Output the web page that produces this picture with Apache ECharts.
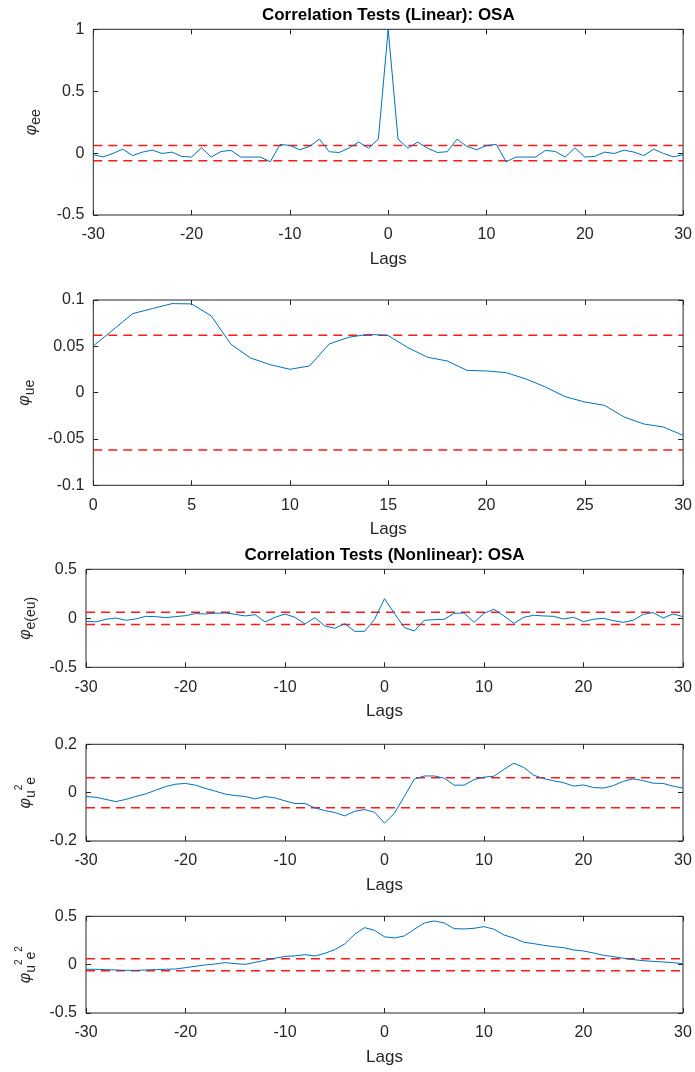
<!DOCTYPE html>
<html><head><meta charset="utf-8">
<script src="https://cdn.jsdelivr.net/npm/echarts@6/dist/echarts.min.js"></script>
<style>html,body{margin:0;padding:0;background:#fff}#c{width:695px;height:1072px}</style>
</head><body><div id="c"></div>
<script>
// ---------- data ----------
const lagsFull = [-30,-29,-28,-27,-26,-25,-24,-23,-22,-21,-20,-19,-18,-17,-16,-15,-14,-13,-12,-11,-10,-9,-8,-7,-6,-5,-4,-3,-2,-1,0,1,2,3,4,5,6,7,8,9,10,11,12,13,14,15,16,17,18,19,20,21,22,23,24,25,26,27,28,29,30];
const lagsPos = [0,1,2,3,4,5,6,7,8,9,10,11,12,13,14,15,16,17,18,19,20,21,22,23,24,25,26,27,28,29,30];

const phiEE = [-0.013,-0.03,-0.003,0.032,-0.02,0.008,0.024,-0.003,0.008,-0.027,-0.032,0.043,-0.032,0.013,0.022,-0.032,-0.032,-0.032,-0.07,0.07,0.062,0.027,0.054,0.113,0.011,0.005,0.04,0.089,0.04,0.113,
  1.0,
  0.113,0.04,0.089,0.04,0.005,0.011,0.113,0.054,0.027,0.062,0.07,-0.07,-0.032,-0.032,-0.032,0.022,0.013,-0.032,0.043,-0.032,-0.027,0.008,-0.003,0.024,0.008,-0.02,0.032,-0.003,-0.03,-0.013];

const phiUE = [0.0504,0.0677,0.0853,0.0907,0.0961,0.0958,0.0828,0.0522,0.0374,0.0302,0.0252,0.0288,0.0526,0.0598,0.063,0.0616,0.0486,0.0382,0.0342,0.0241,0.0234,0.0216,0.0148,0.0061,-0.0043,-0.0101,-0.0137,-0.0263,-0.0338,-0.0371,-0.0461];

const phiEEU = [-0.03,-0.037,-0.01,0.003,-0.02,-0.007,0.02,0.017,0.007,0.017,0.027,0.048,0.044,0.051,0.054,0.041,0.024,0.037,-0.037,0.01,0.044,0.01,-0.058,0.007,-0.078,-0.102,-0.054,-0.133,-0.133,-0.01,
  0.2,
  0.05,-0.095,-0.129,-0.02,-0.014,-0.01,0.051,0.054,-0.041,0.051,0.092,0.024,-0.051,0.01,0.031,0.024,0.02,-0.007,0.01,-0.034,-0.01,0.0,-0.024,-0.041,-0.02,0.041,0.058,0.003,0.044,0.017];

const phiU2E = [-0.016,-0.019,-0.028,-0.037,-0.028,-0.016,-0.005,0.010,0.025,0.035,0.038,0.031,0.018,0.006,-0.006,-0.012,-0.016,-0.026,-0.016,-0.022,-0.034,-0.045,-0.045,-0.063,-0.074,-0.082,-0.096,-0.077,-0.070,-0.081,
  -0.126,
  -0.085,-0.015,0.056,0.069,0.069,0.060,0.031,0.031,0.054,0.064,0.068,0.096,0.122,0.104,0.072,0.058,0.049,0.041,0.027,0.032,0.021,0.019,0.029,0.047,0.057,0.050,0.039,0.038,0.027,0.019];

const phiU2E2 = [-0.048,-0.048,-0.052,-0.055,-0.059,-0.059,-0.055,-0.052,-0.048,-0.045,-0.031,-0.017,-0.003,0.007,0.021,0.010,0.003,0.024,0.045,0.066,0.086,0.090,0.103,0.090,0.117,0.155,0.214,0.314,0.383,0.355,
  0.288,
  0.276,0.297,0.366,0.431,0.452,0.431,0.372,0.369,0.376,0.393,0.366,0.307,0.276,0.231,0.217,0.200,0.186,0.176,0.152,0.141,0.121,0.097,0.083,0.066,0.052,0.041,0.034,0.028,0.021,0.010];

const confBound = 0.062;
const titleLinear = 'Correlation Tests (Linear): OSA';
const titleNonlinear = 'Correlation Tests (Nonlinear): OSA';
const xLabel = 'Lags';

// ---------- chart ----------
const FONT = '"Liberation Sans", Arial, Helvetica, sans-serif';
const AX = '#262626';
const chart = echarts.init(document.getElementById('c'), null, {renderer: 'canvas'});

const panels = [
  {grid: {left: 93.3, top: 29.3, width: 590, height: 185.7}, x: [-30, 30, 10], y: [-0.5, 1, 0.5], lags: lagsFull, vals: phiEE, yname: '{p|φ}{s|ee}', gap: 50},
  {grid: {left: 93.3, top: 300, width: 590, height: 185.3}, x: [0, 30, 5], y: [-0.1, 0.1, 0.05], lags: lagsPos, vals: phiUE, yname: '{p|φ}{s|ue}', gap: 56},
  {grid: {left: 86, top: 569.3, width: 597, height: 98}, x: [-30, 30, 10], y: [-0.5, 0.5, 0.5], lags: lagsFull, vals: phiEEU, yname: '{p|φ}{s|e(eu)}', gap: 48},
  {grid: {left: 86, top: 744.3, width: 597, height: 96.7}, x: [-30, 30, 10], y: [-0.2, 0.2, 0.2], lags: lagsFull, vals: phiU2E, yname: '{p|φ}{s|u}{t|2}{s|e}', gap: 48},
  {grid: {left: 86, top: 916.3, width: 597, height: 96.7}, x: [-30, 30, 10], y: [-0.5, 0.5, 0.5], lags: lagsFull, vals: phiU2E2, yname: '{p|φ}{s|u}{t|2}{s|e}{t|2}', gap: 48}
];

const grids = [], xAxes = [], yAxes = [], series = [];
const mkTick = () => ({show: true, inside: true, length: 5, lineStyle: {color: AX, width: 1}});
const mkNoLine = () => ({show: false, onZero: false});
panels.forEach((p, i) => {
  grids.push(Object.assign({show: true, borderColor: AX, borderWidth: 1, backgroundColor: 'transparent', containLabel: false}, p.grid));
  const xBase = () => ({gridIndex: i, type: 'value', min: p.x[0], max: p.x[1], interval: p.x[2], splitLine: {show: false}, axisLine: mkNoLine(), axisTick: mkTick()});
  xAxes.push(Object.assign(xBase(), {position: 'bottom',
    axisLabel: {color: AX, fontSize: 16, fontFamily: FONT, margin: 12},
    name: xLabel, nameLocation: 'middle', nameGap: 36,
    nameTextStyle: {color: AX, fontSize: 17, fontFamily: FONT}}));
  xAxes.push(Object.assign(xBase(), {position: 'top', axisLabel: {show: false}}));
  const yBase = () => ({gridIndex: i, type: 'value', min: p.y[0], max: p.y[1], interval: p.y[2], splitLine: {show: false}, axisLine: mkNoLine(), axisTick: mkTick()});
  yAxes.push(Object.assign(yBase(), {position: 'left',
    axisLabel: {color: AX, fontSize: 16, fontFamily: FONT, margin: 9},
    name: p.yname, nameLocation: 'middle', nameRotate: 90, nameGap: p.gap,
    nameTextStyle: {color: AX, fontFamily: FONT,
      rich: {
        p: {fontSize: 16, fontStyle: 'italic', fontFamily: FONT, color: AX, verticalAlign: 'middle', lineHeight: 24},
        s: {fontSize: 14, fontFamily: FONT, color: AX, verticalAlign: 'bottom', lineHeight: 24},
        t: {fontSize: 10, fontFamily: FONT, color: AX, verticalAlign: 'top', lineHeight: 24}
      }}}));
  yAxes.push(Object.assign(yBase(), {position: 'right', axisLabel: {show: false}}));
  // confidence bounds, drawn across the full lag range of the panel
  [confBound, -confBound].forEach(b => {
    series.push({
      type: 'line', xAxisIndex: 2 * i, yAxisIndex: 2 * i,
      data: [[p.x[0], b], [p.x[1], b]],
      showSymbol: false, symbol: 'none', silent: true,
      lineStyle: {color: '#ff0000', width: 1.5, type: [9, 6], opacity: 0.9}, z: 2
    });
  });
  series.push({
    type: 'line', xAxisIndex: 2 * i, yAxisIndex: 2 * i,
    data: p.lags.map((l, k) => [l, p.vals[k]]),
    showSymbol: false, symbol: 'none',
    lineStyle: {color: '#0072BD', width: 1}, z: 3
  });
});

chart.setOption({
  animation: false,
  backgroundColor: '#fff',
  grid: grids, xAxis: xAxes, yAxis: yAxes, series: series,
  graphic: [
    {type: 'text', x: 388.3, y: 15, style: {text: titleLinear, fill: '#000', font: 'bold 17px ' + FONT, textAlign: 'center', textVerticalAlign: 'middle'}},
    {type: 'text', x: 384.5, y: 555, style: {text: titleNonlinear, fill: '#000', font: 'bold 17px ' + FONT, textAlign: 'center', textVerticalAlign: 'middle'}}
  ]
});
</script></body></html>
